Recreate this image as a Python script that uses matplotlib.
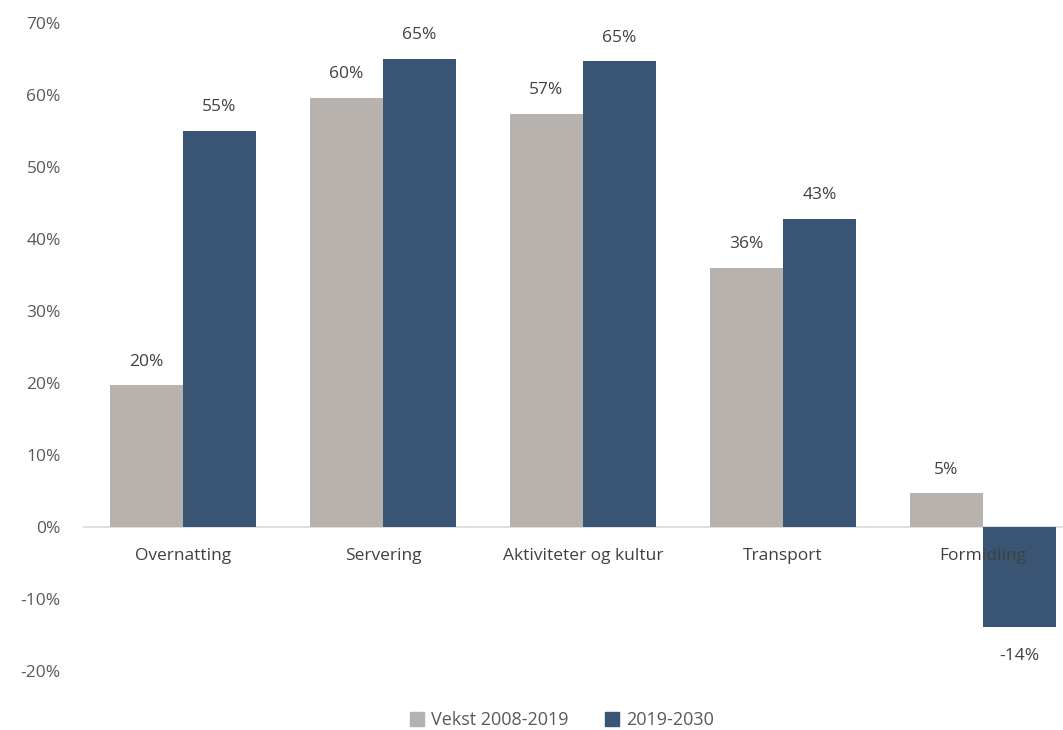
import numpy as np
import matplotlib.pyplot as plt
from matplotlib.patches import Patch

plt.rcParams['font.family'] = ['Open Sans', 'DejaVu Sans']

# --- Data ---
categories = ["Overnatting", "Servering", "Aktiviteter og kultur", "Transport", "Formidling"]
series_names = ["Vekst 2008-2019", "2019-2030"]
vekst_2008_2019 = [19.7, 59.6, 57.4, 36.0, 4.7]
vekst_2019_2030 = [55.0, 65.0, 64.7, 42.8, -13.9]

grey = "#B7B2AD"
blue = "#3A5573"
text_col = "#595959"

fig = plt.figure(figsize=(10.63, 7.30), dpi=100)
# axes run past the right edge, as in the original layout
ax = fig.add_axes([83 / 1063, 1 - 671 / 730, 1000 / 1063, (671 - 23) / 730])

x = np.arange(len(categories))
w = 0.365
b1 = ax.bar(x - w / 2, vekst_2008_2019, w, color=grey, zorder=2)
b2 = ax.bar(x + w / 2, vekst_2019_2030, w, color=blue, zorder=2)

ax.set_xlim(-0.5, len(categories) - 0.5)
ax.set_ylim(-20, 70)
ax.set_yticks(np.arange(-20, 71, 10))
ax.set_yticklabels([f"{v}%" for v in range(-20, 71, 10)])
ax.tick_params(axis='y', length=0, pad=16, labelsize=12.5, labelcolor=text_col)
ax.set_xticks([])

for s in ax.spines.values():
    s.set_visible(False)
ax.axhline(0, color="#D9D9D9", lw=1.2, zorder=1)

# category names just below the zero line
for xi, name in zip(x, categories):
    ax.annotate(name, (xi, 0), xytext=(0, -21), textcoords='offset points',
                ha='center', va='center', fontsize=12.5, color="#404040", zorder=5)

# value labels
for bars in (b1, b2):
    for rect in bars:
        v = rect.get_height()
        xc = rect.get_x() + rect.get_width() / 2
        off = 17 if v >= 0 else -21
        ax.annotate(f"{round(v):.0f}%", (xc, v), xytext=(0, off), textcoords='offset points',
                    ha='center', va='center', fontsize=12.5, color="#404040")

handles = [Patch(color=grey, label=series_names[0]), Patch(color=blue, label=series_names[1])]
fig.legend(handles=handles, loc='center', bbox_to_anchor=(562 / 1063, 1 - 720 / 730),
           ncol=2, frameon=False, fontsize=13, handlelength=0.8, handleheight=0.8,
           handletextpad=0.4, columnspacing=2.0, labelcolor=text_col)

fig.savefig("out.png", dpi=100)
